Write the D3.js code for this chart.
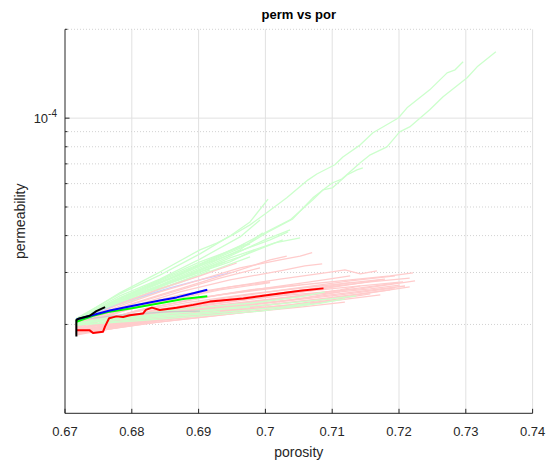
<!DOCTYPE html>
<html>
<head>
<meta charset="utf-8">
<script src="https://cdn.jsdelivr.net/npm/d3@7"></script>
<style>
  body { margin: 0; background: #fff; }
  text { font-family: "Liberation Sans", Arial, sans-serif; fill: #262626; }
</style>
</head>
<body>
<div id="chart"></div>
<script>
// permeability values below are in units of 1e-5
const PERM_UNIT = 1e-5;

const xTicks = [0.67, 0.68, 0.69, 0.7, 0.71, 0.72, 0.73, 0.74];
const xTickLabels = ["0.67", "0.68", "0.69", "0.7", "0.71", "0.72", "0.73", "0.74"];
const yMajor = [1e-4];
const yMinor = [2e-5, 3e-5, 4e-5, 5e-5, 6e-5, 7e-5, 8e-5, 9e-5, 2e-4];

// faint green runs (the steep fan)
const greenRuns = [
    [[0.6716,2.07],[0.6782,2.56],[0.6842,3.01],[0.6902,3.58],[0.6928,3.78],[0.6951,4.02],[0.6977,4.35],[0.7002,4.78],[0.7032,5.37],[0.7064,6.18],[0.7077,6.47],[0.7104,6.95],[0.7116,7.39],[0.7142,8.12],[0.7161,8.92],[0.7199,10.01],[0.7212,10.84],[0.7246,12.47],[0.7272,14.24],[0.7284,14.58],[0.7296,15.52]],
    [[0.6716,2.06],[0.6782,2.46],[0.6842,2.83],[0.6902,3.26],[0.6951,3.58],[0.6977,3.78],[0.7002,4.09],[0.7041,4.56],[0.7071,5.37],[0.7100,6.03],[0.7115,6.23],[0.7142,7.06],[0.7157,7.51],[0.7182,7.99],[0.7201,8.99],[0.7216,9.34],[0.7246,10.67],[0.7266,11.81],[0.7302,13.70],[0.7317,14.92],[0.7345,16.78]],
    [[0.6716,2.06],[0.6782,2.44],[0.6842,2.81],[0.6902,3.21],[0.6962,3.69],[0.7007,4.18],[0.7037,4.52],[0.7071,5.29],[0.7086,5.71],[0.7100,5.80],[0.7122,6.42],[0.7137,6.68],[0.7146,6.78]],
    [[0.6716,2.09],[0.6782,2.54],[0.6842,2.94],[0.6902,3.47],[0.6947,3.99],[0.6977,4.45],[0.7004,5.32]],
    [[0.6716,2.07],[0.6782,2.50],[0.6842,2.85],[0.6902,3.33],[0.6962,3.96],[0.6992,4.52]],
    [[0.6716,2.06],[0.6782,2.44],[0.6842,2.77],[0.6902,3.16],[0.6962,3.55],[0.7007,3.87],[0.7034,4.12]],
    [[0.6716,2.06],[0.6782,2.42],[0.6842,2.72],[0.6902,3.11],[0.6962,3.58],[0.6996,4.09]],
    [[0.6716,2.04],[0.6782,2.40],[0.6842,2.70],[0.6902,3.06],[0.6962,3.39],[0.7026,3.87]],
    [[0.6716,2.06],[0.6782,2.40],[0.6842,2.68],[0.6902,3.01],[0.6947,3.26],[0.6984,3.58]],
    [[0.6716,2.04],[0.6767,2.33],[0.6827,2.62],[0.6887,2.92],[0.6940,3.26]],
    [[0.6716,2.04],[0.6767,2.31],[0.6827,2.56],[0.6872,2.79],[0.6917,3.06]],
    [[0.6716,2.06],[0.6767,2.33],[0.6812,2.54],[0.6857,2.72],[0.6895,2.92]],
    [[0.6716,2.04],[0.6767,2.28],[0.6812,2.46],[0.6850,2.62]],
    [[0.6716,2.06],[0.6797,2.46],[0.6872,2.85],[0.6947,3.36],[0.7014,3.78],[0.7052,3.93]],
    [[0.6716,2.07],[0.6797,2.50],[0.6872,2.94],[0.6932,3.39],[0.6977,3.75]],
    [[0.6716,2.07],[0.6797,2.48],[0.6872,2.87],[0.6947,3.41],[0.6999,3.87],[0.7037,4.18]],
    [[0.6716,2.06],[0.6782,2.46],[0.6857,2.87],[0.6925,3.36],[0.6969,3.75]],
    [[0.6716,2.04],[0.6797,2.44],[0.6872,2.77],[0.6932,3.11],[0.6977,3.39]]
];

// faint green runs that stay low, under the pink band
const lowGreenRuns = [
    [[0.6716,2.02],[0.6782,2.14],[0.6842,2.21],[0.6902,2.28],[0.6977,2.36],[0.7052,2.48],[0.7089,2.58]],
    [[0.6716,2.01],[0.6797,2.10],[0.6872,2.19],[0.6947,2.28],[0.7022,2.35],[0.7097,2.44],[0.7136,2.50]],
    [[0.6716,1.99],[0.6797,2.07],[0.6872,2.14],[0.6947,2.21],[0.7022,2.29],[0.7067,2.36]],
    [[0.6716,2.02],[0.6782,2.10],[0.6842,2.17],[0.6902,2.22],[0.6977,2.29]],
    [[0.6716,2.01],[0.6767,2.07],[0.6827,2.12],[0.6887,2.17],[0.6932,2.22]],
    [[0.6716,1.99],[0.6812,2.06],[0.6902,2.14],[0.6992,2.22],[0.7082,2.36],[0.7119,2.44]]
];

const faintBlueRun = [[0.6716,2.06],[0.6797,2.42],[0.6857,2.66],[0.6902,2.83],[0.6947,2.99]];
const faintGrayRun = [[0.6716,2.07],[0.6782,2.15],[0.6857,2.21],[0.6902,2.22]];

// faint pink runs
const pinkRuns = [
    [[0.6716,2.01],[0.6782,2.31],[0.6842,2.58],[0.6902,2.83],[0.6962,3.11],[0.7022,3.31],[0.7052,3.41],[0.7070,3.50]],
    [[0.6716,1.99],[0.6782,2.28],[0.6842,2.52],[0.6902,2.77],[0.6962,3.06],[0.7007,3.31],[0.7032,3.41]],
    [[0.6716,1.98],[0.6797,2.29],[0.6872,2.58],[0.6947,2.83],[0.7022,3.04],[0.7059,3.16],[0.7085,3.21]],
    [[0.6716,1.96],[0.6797,2.26],[0.6872,2.48],[0.6947,2.68],[0.7022,2.85],[0.7097,3.01],[0.7119,3.06],[0.7142,2.97],[0.7167,3.04]],
    [[0.6716,1.95],[0.6827,2.28],[0.6932,2.52],[0.7037,2.70],[0.7127,2.83],[0.7187,2.92],[0.7221,2.99]],
    [[0.6716,1.93],[0.6827,2.21],[0.6932,2.40],[0.7037,2.56],[0.7127,2.68],[0.7206,2.79]],
    [[0.6716,2.01],[0.6782,2.35],[0.6842,2.64],[0.6902,2.92],[0.6957,3.23]],
    [[0.6716,1.99],[0.6797,2.33],[0.6872,2.62],[0.6932,2.87],[0.6992,3.11]],
    [[0.6716,1.95],[0.6812,2.24],[0.6902,2.46],[0.6992,2.64],[0.7067,2.79],[0.7127,2.92]],
    [[0.6716,1.93],[0.6827,2.22],[0.6932,2.44],[0.7037,2.64],[0.7127,2.81],[0.7194,2.92]],
    [[0.6716,1.92],[0.6842,2.22],[0.6962,2.46],[0.7082,2.66],[0.7157,2.79],[0.7216,2.87]],
    [[0.6716,1.92],[0.6827,2.17],[0.6932,2.36],[0.7037,2.54],[0.7112,2.70],[0.7172,2.83]],
    [[0.6716,1.90],[0.6842,2.15],[0.6962,2.35],[0.7082,2.54],[0.7157,2.64],[0.7201,2.72]],
    [[0.6716,1.92],[0.6827,2.15],[0.6932,2.33],[0.7037,2.48],[0.7112,2.62],[0.7142,2.70]],
    [[0.6716,1.90],[0.6827,2.12],[0.6932,2.28],[0.7037,2.42],[0.7112,2.58]],
    [[0.6716,1.89],[0.6812,2.10],[0.6902,2.24],[0.6992,2.38],[0.7052,2.50]],
    [[0.6716,1.89],[0.6842,2.10],[0.6962,2.28],[0.7082,2.44],[0.7187,2.62]],
    [[0.6716,1.87],[0.6827,2.07],[0.6932,2.21],[0.7037,2.33],[0.7097,2.44]],
    [[0.6716,1.87],[0.6812,2.04],[0.6902,2.17],[0.6977,2.28],[0.7022,2.36]],
    [[0.6716,1.86],[0.6797,2.01],[0.6887,2.12],[0.6977,2.24]],
    [[0.6716,1.87],[0.6842,2.07],[0.6962,2.22],[0.7067,2.36],[0.7157,2.54]],
    [[0.6716,1.96],[0.6812,2.24],[0.6902,2.46],[0.6977,2.62],[0.7052,2.72]],
    [[0.6716,1.86],[0.6782,1.99],[0.6857,2.10],[0.6932,2.21]],
    [[0.6716,1.89],[0.6842,2.12],[0.6977,2.33],[0.7097,2.52],[0.7209,2.70]],
    [[0.6716,1.84],[0.6782,1.96],[0.6842,2.07],[0.6872,2.14]],
    [[0.6716,1.98],[0.6797,2.28],[0.6872,2.52],[0.6947,2.68],[0.7007,2.79]],
    [[0.6716,1.93],[0.6827,2.22],[0.6947,2.44],[0.7052,2.60],[0.7127,2.77]],
    [[0.6716,1.86],[0.6827,2.02],[0.6947,2.17],[0.7052,2.31],[0.7104,2.42]],
    [[0.6716,1.92],[0.6842,2.17],[0.6977,2.38],[0.7097,2.58],[0.7201,2.77]],
    [[0.6716,1.90],[0.6857,2.15],[0.6992,2.35],[0.7112,2.52],[0.7194,2.66]],
    [[0.6716,1.89],[0.6872,2.14],[0.7007,2.33],[0.7127,2.50],[0.7216,2.68]],
    [[0.6716,1.87],[0.6857,2.09],[0.6992,2.28],[0.7097,2.40],[0.7172,2.52]],
    [[0.6716,1.93],[0.6812,2.17],[0.6917,2.35],[0.7022,2.50],[0.7142,2.64],[0.7224,2.81]],
    [[0.6716,1.86],[0.6842,2.04],[0.6962,2.19],[0.7052,2.29],[0.7119,2.38]],
    [[0.6716,1.95],[0.6797,2.19],[0.6887,2.38],[0.6977,2.54],[0.7082,2.70],[0.7179,2.85]],
    [[0.6716,1.96],[0.6782,2.21],[0.6857,2.42],[0.6932,2.62],[0.7007,2.77]]
];

// the four bold runs
const blackRun = [[0.6717,1.82],[0.6717,2.07],[0.6720,2.09],[0.6737,2.14],[0.6747,2.22],[0.6760,2.29]];
const blueRun = [[0.6717,2.08],[0.6767,2.23],[0.6800,2.31],[0.6842,2.41],[0.6867,2.47],[0.6892,2.55],[0.6913,2.62]];
const greenRun = [[0.6717,2.04],[0.6742,2.14],[0.6767,2.21],[0.6800,2.27],[0.6842,2.36],[0.6877,2.44],[0.6913,2.49]];
const redRun = [[0.6717,1.91],[0.6737,1.91],[0.6742,1.87],[0.6757,1.89],[0.6760,1.97],[0.6766,2.10],[0.6777,2.13],[0.6787,2.12],[0.6797,2.15],[0.6817,2.18],[0.6821,2.24],[0.6830,2.28],[0.6842,2.24],[0.6867,2.28],[0.6892,2.33],[0.6917,2.39],[0.6942,2.42],[0.6967,2.45],[0.7002,2.51],[0.7052,2.60],[0.7087,2.65]];

const W = 547, H = 461;
const plot = { left: 65, right: 532.6, top: 29.3, bottom: 413.3 };

const svg = d3.select("#chart").append("svg")
    .attr("width", W)
    .attr("height", H)
    .attr("viewBox", [0, 0, W, H]);

svg.append("rect").attr("width", W).attr("height", H).attr("fill", "#fff");

const x = d3.scaleLinear().domain([0.67, 0.74]).range([plot.left, plot.right]);
const y = d3.scaleLog().domain([1e-5, 2e-4]).range([plot.bottom, plot.top]);

// grid
const grid = svg.append("g");
grid.selectAll("line.vx")
    .data(xTicks.slice(1))
    .join("line")
    .attr("x1", d => x(d)).attr("x2", d => x(d))
    .attr("y1", plot.top).attr("y2", plot.bottom)
    .attr("stroke", "#e1e1e1").attr("stroke-width", 1);

grid.selectAll("line.minor")
    .data(yMinor)
    .join("line")
    .attr("x1", plot.left).attr("x2", plot.right)
    .attr("y1", d => y(d)).attr("y2", d => y(d))
    .attr("stroke", "#d2d2d2").attr("stroke-width", 1)
    .attr("stroke-dasharray", "1,2");

grid.selectAll("line.major")
    .data(yMajor)
    .join("line")
    .attr("x1", plot.left).attr("x2", plot.right)
    .attr("y1", d => y(d)).attr("y2", d => y(d))
    .attr("stroke", "#e1e1e1").attr("stroke-width", 1);

// lines
const line = d3.line()
    .x(d => x(d[0]))
    .y(d => y(d[1] * PERM_UNIT));

const lines = svg.append("g").attr("fill", "none").attr("stroke-linejoin", "round");
const faintW = 1.3;

lines.selectAll("path.g")
    .data(greenRuns)
    .join("path")
    .attr("d", line)
    .attr("stroke", "rgb(204,255,204)")
    .attr("stroke-width", faintW);

lines.append("path").attr("d", line(faintBlueRun))
    .attr("stroke", "rgb(204,204,255)").attr("stroke-width", faintW);

lines.selectAll("path.p")
    .data(pinkRuns)
    .join("path")
    .attr("d", line)
    .attr("stroke", "rgb(255,204,204)")
    .attr("stroke-width", faintW);

lines.selectAll("path.lg")
    .data(lowGreenRuns)
    .join("path")
    .attr("d", line)
    .attr("stroke", "rgb(204,255,204)")
    .attr("stroke-width", faintW);

lines.append("path").attr("d", line(faintGrayRun))
    .attr("stroke", "rgb(204,204,204)").attr("stroke-width", faintW);

const bold = [
    { run: redRun, color: "#ff0000" },
    { run: greenRun, color: "#00ff00" },
    { run: blueRun, color: "#0000ff" },
    { run: blackRun, color: "#000000" }
];
lines.selectAll("path.b")
    .data(bold)
    .join("path")
    .attr("d", d => line(d.run))
    .attr("stroke", d => d.color)
    .attr("stroke-width", 2);

// axes (box off: only left and bottom)
const axisColor = "#262626";
svg.append("line")
    .attr("x1", plot.left).attr("x2", plot.right)
    .attr("y1", plot.bottom).attr("y2", plot.bottom)
    .attr("stroke", axisColor).attr("stroke-width", 1);
svg.append("line")
    .attr("x1", plot.left).attr("x2", plot.left)
    .attr("y1", plot.top).attr("y2", plot.bottom)
    .attr("stroke", axisColor).attr("stroke-width", 1);

svg.append("g").selectAll("line")
    .data(xTicks)
    .join("line")
    .attr("x1", d => x(d)).attr("x2", d => x(d))
    .attr("y1", plot.bottom).attr("y2", plot.bottom - 4.5)
    .attr("stroke", axisColor);

svg.append("g").selectAll("line")
    .data(yMinor.concat(yMajor))
    .join("line")
    .attr("x1", plot.left).attr("x2", d => plot.left + (yMajor.includes(d) ? 4.5 : 2.5))
    .attr("y1", d => y(d)).attr("y2", d => y(d))
    .attr("stroke", axisColor);

svg.append("g").selectAll("text")
    .data(xTicks)
    .join("text")
    .attr("x", d => x(d))
    .attr("y", plot.bottom + 23)
    .attr("text-anchor", "middle")
    .attr("font-size", 13)
    .text((d, i) => xTickLabels[i]);

const yl = svg.append("text")
    .attr("x", plot.left - 8)
    .attr("y", y(1e-4) + 5)
    .attr("text-anchor", "end")
    .attr("font-size", 13);
yl.append("tspan").text("10");
yl.append("tspan").attr("dy", -6).attr("font-size", 10).text("-4");

svg.append("text")
    .attr("x", (plot.left + plot.right) / 2)
    .attr("y", 19)
    .attr("text-anchor", "middle")
    .attr("font-size", 13)
    .attr("font-weight", "bold")
    .style("fill", "#000")
    .text("perm vs por");

svg.append("text")
    .attr("x", (plot.left + plot.right) / 2)
    .attr("y", 457)
    .attr("text-anchor", "middle")
    .attr("font-size", 14)
    .text("porosity");

svg.append("text")
    .attr("transform", `translate(25,${(plot.top + plot.bottom) / 2}) rotate(-90)`)
    .attr("text-anchor", "middle")
    .attr("font-size", 14)
    .text("permeability");
</script>
</body>
</html>
